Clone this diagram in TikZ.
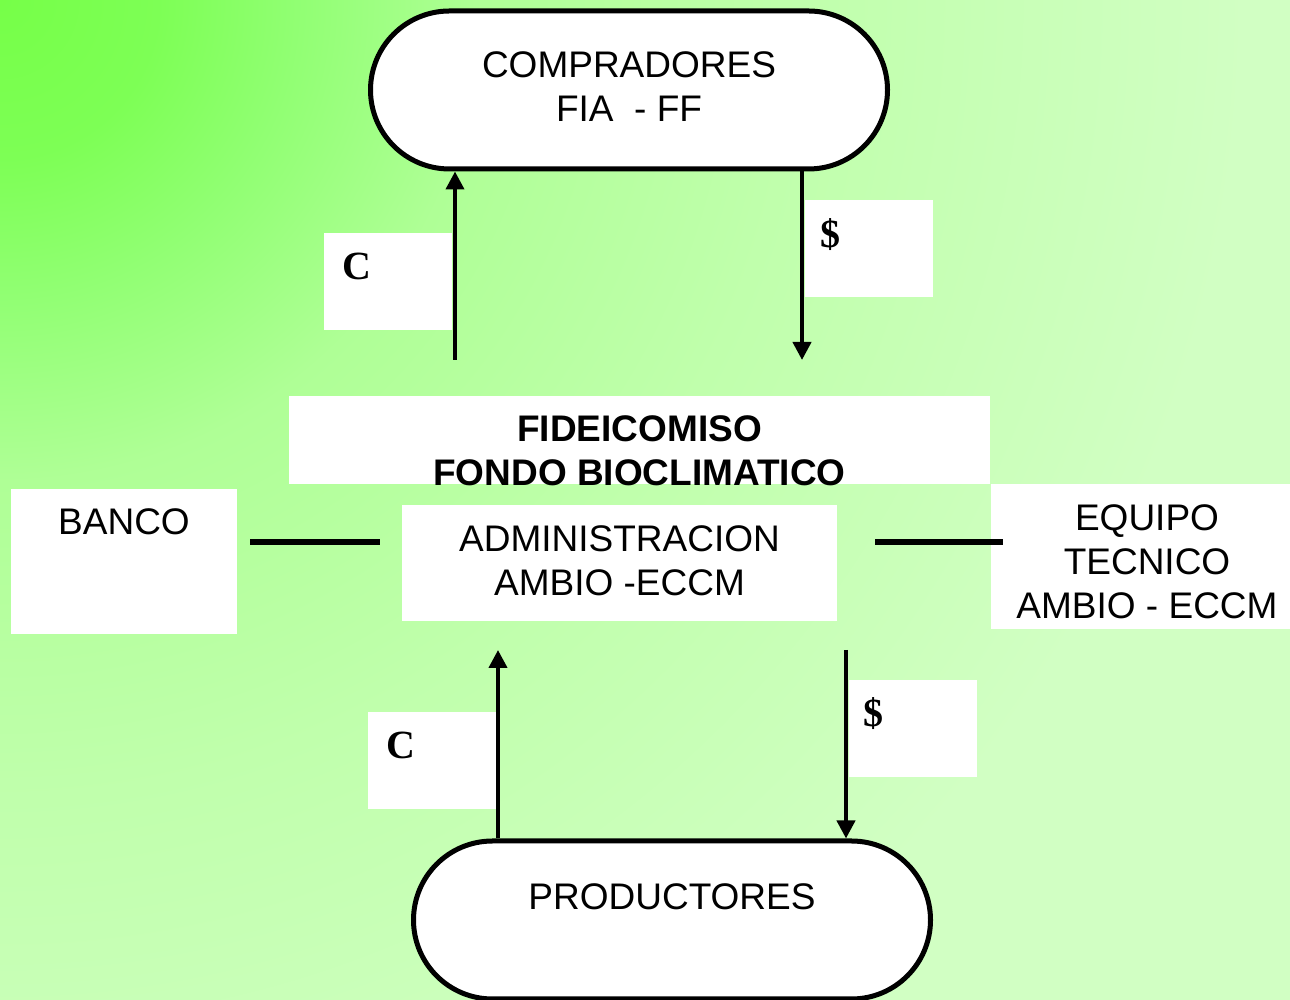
\documentclass[tikz,border=0pt]{standalone}
\usepackage{fontspec}
\setmainfont{Liberation Sans}
\newfontfamily\tagfont{Liberation Serif}
\usetikzlibrary{shapes.misc,arrows.meta}

\definecolor{glowA}{RGB}{118,255,72}
\definecolor{glowB}{RGB}{125,255,85}
\definecolor{glowC}{RGB}{145,255,115}
\definecolor{glowD}{RGB}{175,255,150}
\definecolor{glowE}{RGB}{192,255,172}
\definecolor{glowF}{RGB}{209,255,195}
\pgfdeclareradialshading{bgglow}{\pgfpointorigin}{color(0bp)=(glowA); color(2.4bp)=(glowB); color(4.5bp)=(glowC); color(7.3bp)=(glowD); color(12.1bp)=(glowE); color(18.9bp)=(glowF); color(50bp)=(glowF)}

\begin{document}
\begin{tikzpicture}[x=0.5pt, y=0.5pt,
	every node/.style={align=center, font=\fontsize{18.5}{22}\selectfont},
	end node/.style={rounded rectangle, draw, line width=2.5pt, fill=white, minimum width=258.5pt, minimum height=79pt, inner sep=0pt},
	white box/.style={fill=white, inner sep=0pt},
	tag box/.style={white box, minimum width=64pt, minimum height=48.5pt},
	tag text/.style={font=\tagfont\bfseries\fontsize{20}{22}\selectfont, inner sep=0pt},
	flow/.style={line width=2pt, -{Triangle[width=9pt,length=9pt]}},
	link/.style={line width=3pt}]
	\useasboundingbox (0,0) rectangle (1290,1000);
	\begin{scope}
		\clip (0,0) rectangle (1290,1000);
		\fill[glowF] (0,0) rectangle (1290,1000);
		\shade[shading=bgglow] (0,1000) circle (1650);
	\end{scope}

	% buyers and producers
	\node[end node] (comp) at (629,910) {};
	\node (compText) at ([yshift=1.5pt]comp.center) {COMPRADORES\\FIA\ \ - FF};
	\node[end node] (prod) at (672,80) {};
	\node (prodText) at ([yshift=11.5pt]prod.center) {PRODUCTORES};

	% trust fund in the middle
	\node[white box, minimum width=350.5pt, minimum height=44pt] (fid) at (639.5,560) {};
	\node[font=\fontsize{18.5}{22}\selectfont\bfseries] (fidText) at ([yshift=-5.5pt]fid.center) {FIDEICOMISO\\FONDO BIOCLIMATICO};
	\node[white box, minimum width=217.5pt, minimum height=58pt] (adm) at (619.5,437) {};
	\node (admText) at ([yshift=1pt]adm.center) {ADMINISTRACION\\AMBIO -ECCM};
	\node[white box, minimum width=113pt, minimum height=72.5pt] (banco) at (124,438.5) {};
	\node (bancoText) at ([yshift=19.75pt]banco.center) {BANCO};
	\node[white box, minimum width=156pt, minimum height=72.5pt] (equipo) at (1147,443.5) {};
	\node (equipoText) at ([yshift=-2.5pt]equipo.center) {EQUIPO\\TECNICO\\AMBIO - ECCM};

	% labels of the flows
	\node[tag box] (cTop) at (388,718.5) {};
	\node[tag text] (cTopText) at ([shift={(16.75pt,-16.75pt)}]cTop.north west) {C};
	\node[tag box] (sTop) at (869,751) {};
	\node[tag text] (sTopText) at ([shift={(12.9pt,-17pt)}]sTop.north west) {\$};
	\node[tag box] (cBot) at (432,239) {};
	\node[tag text] (cBotText) at ([shift={(16.5pt,-16.5pt)}]cBot.north west) {C};
	\node[tag box] (sBot) at (912.5,271) {};
	\node[tag text] (sBotText) at ([shift={(12.5pt,-16.5pt)}]sBot.north west) {\$};

	% flows
	\coordinate (upTop) at (455,640);
	\coordinate (dnTip) at (802,640);
	\coordinate (upTip) at (498,350);
	\coordinate (dnTop) at (846,350);
	\draw[flow] (upTop) -- (upTop |- comp.south);
	\draw[flow] (dnTip |- comp.south) -- (dnTip);
	\draw[flow] (upTip |- prod.north) -- (upTip);
	\draw[flow] (dnTop) -- (dnTop |- prod.north);

	% links to bank and team
	\draw[link, shorten <=6.5pt, shorten >=11pt] ([yshift=9.75pt]banco.east) -- ([yshift=9.75pt]banco.east -| adm.west);
	\draw[link, shorten <=19pt, shorten >=-6pt] ([yshift=9.75pt]banco.east -| adm.east) -- ([yshift=9.75pt]banco.east -| equipo.west);
\end{tikzpicture}
\end{document}
